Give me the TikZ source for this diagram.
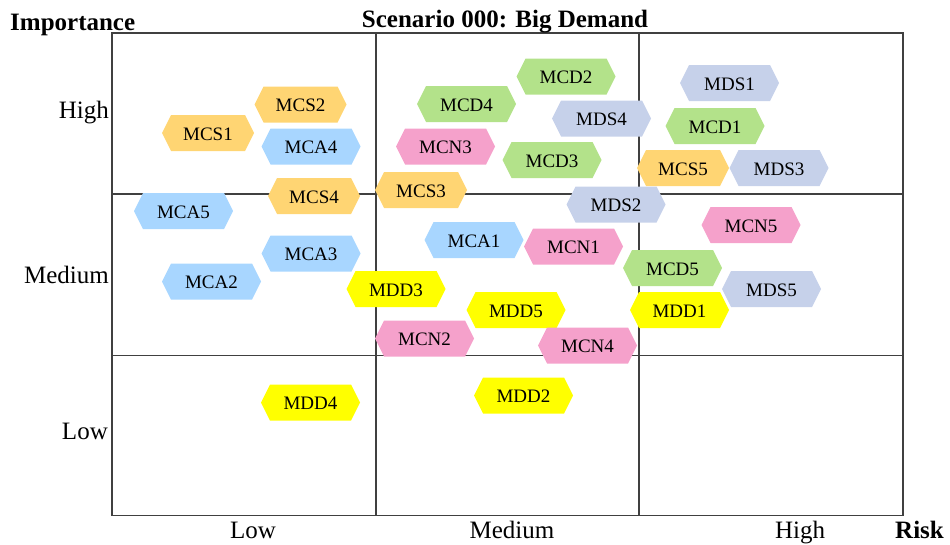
\documentclass[tikz,border=0pt]{standalone}
\usepackage{fontspec}
\setmainfont{Liberation Serif}
\definecolor{cmcs}{HTML}{FFD573}
\definecolor{cmca}{HTML}{A8D6FF}
\definecolor{cmcd}{HTML}{B3E28A}
\definecolor{cmds}{HTML}{C6D1EA}
\definecolor{cmcn}{HTML}{F5A1CB}
\definecolor{cmdd}{HTML}{FFFF00}
\tikzset{
  gridline/.style={draw=black!75, line width=1.1pt},
  hextext/.style={inner sep=0pt, font=\fontsize{19}{22}\selectfont, yshift=-1pt},
  axislabel/.style={inner sep=0pt, font=\fontsize{25}{30}\selectfont},
  axistitle/.style={inner sep=0pt, font=\fontsize{25}{30}\selectfont\bfseries},
}
\newcommand{\hexnode}[6]{%
  \fill[#5] (#2-#4,#3) -- (#2-#4+9,#3-18) -- (#2+#4-9,#3-18) -- (#2+#4,#3)
    -- (#2+#4-9,#3+18) -- (#2-#4+9,#3+18) -- cycle;
  \node[hextext] (#1) at (#2,#3) {#6};}
\begin{document}
\begin{tikzpicture}[x=1pt,y=-1pt]
\useasboundingbox (0,0) rectangle (950,544);
% grid
\draw[gridline] (112,33) rectangle (903,515.5);
\draw[gridline] (376,33) -- (376,515.5);
\draw[gridline] (639,33) -- (639,515.5);
\draw[gridline] (112,194) -- (903,194);
\draw[gridline] (112,355.5) -- (903,355.5);
% titles
\node[axistitle, anchor=base west] (imp) at (10,30) {Importance};
\node[axistitle, anchor=base] (title) at (505,27) {Scenario 000: Big Demand};
\node[axistitle, anchor=base west] (risk) at (895,538) {Risk};
% axis labels
\node[axislabel, anchor=base east] (yhigh) at (109,118) {High};
\node[axislabel, anchor=base east] (ymed) at (109,283) {Medium};
\node[axislabel, anchor=base east] (ylow) at (108,439) {Low};
\node[axislabel, anchor=base] (xlow) at (253,538) {Low};
\node[axislabel, anchor=base] (xmed) at (512,538) {Medium};
\node[axislabel, anchor=base] (xhigh) at (800,538) {High};
% hexagons
\hexnode{mcs1}{208}{133}{46}{cmcs}{MCS1}
\hexnode{mcs2}{300.5}{104.5}{46}{cmcs}{MCS2}
\hexnode{mca4}{311}{146.5}{49.5}{cmca}{MCA4}
\hexnode{mca5}{183.5}{211}{49.5}{cmca}{MCA5}
\hexnode{mcs4}{314}{196}{46}{cmcs}{MCS4}
\hexnode{mca3}{311}{253.5}{49.5}{cmca}{MCA3}
\hexnode{mca2}{211.5}{281.5}{49.5}{cmca}{MCA2}
\hexnode{mdd3}{396}{289}{49.5}{cmdd}{MDD3}
\hexnode{mca1}{474}{240}{49.5}{cmca}{MCA1}
\hexnode{mcn1}{573.5}{246.5}{49.5}{cmcn}{MCN1}
\hexnode{mdd5}{516}{310}{49.5}{cmdd}{MDD5}
\hexnode{mcn2}{424.5}{338.5}{49.5}{cmcn}{MCN2}
\hexnode{mcn4}{587.5}{345.5}{49.5}{cmcn}{MCN4}
\hexnode{mdd4}{310.5}{402.5}{49.5}{cmdd}{MDD4}
\hexnode{mdd2}{523.5}{395.5}{49.5}{cmdd}{MDD2}
\hexnode{mcd2}{566}{76.5}{49.5}{cmcd}{MCD2}
\hexnode{mcd4}{466.5}{104}{49.5}{cmcd}{MCD4}
\hexnode{mds4}{601.5}{118.5}{49.5}{cmds}{MDS4}
\hexnode{mcn3}{445.5}{146.5}{49.5}{cmcn}{MCN3}
\hexnode{mcd3}{552}{160}{49.5}{cmcd}{MCD3}
\hexnode{mcs3}{421}{190}{46}{cmcs}{MCS3}
\hexnode{mds2}{616}{204.5}{49.5}{cmds}{MDS2}
\hexnode{mds1}{729.5}{83}{49.5}{cmds}{MDS1}
\hexnode{mcd1}{715}{126}{49.5}{cmcd}{MCD1}
\hexnode{mcs5}{683}{168}{46}{cmcs}{MCS5}
\hexnode{mds3}{779}{168}{49.5}{cmds}{MDS3}
\hexnode{mcn5}{751}{225}{49.5}{cmcn}{MCN5}
\hexnode{mcd5}{672.5}{268}{49.5}{cmcd}{MCD5}
\hexnode{mds5}{771.5}{289}{49.5}{cmds}{MDS5}
\hexnode{mdd1}{679.5}{310}{49.5}{cmdd}{MDD1}
\end{tikzpicture}
\end{document}
